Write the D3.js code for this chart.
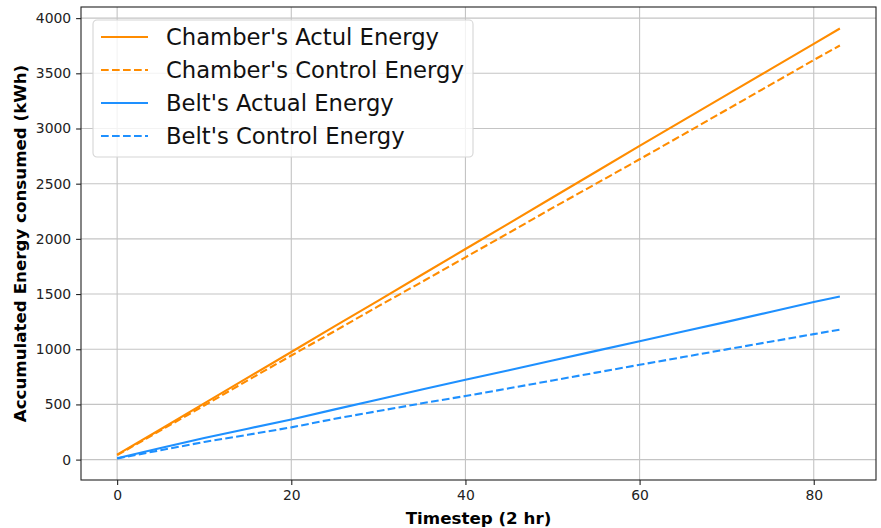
<!DOCTYPE html>
<html>
<head>
<meta charset="utf-8">
<script src="https://cdn.jsdelivr.net/npm/d3@7"></script>
<style>
  body { margin: 0; background: #fff; }
  svg { display: block; font-family: "DejaVu Sans", sans-serif; }
</style>
</head>
<body>
<div id="chart"></div>
<script>
// timesteps (2 hr)
var timesteps = [0, 5, 10, 15, 20, 25, 30, 35, 40, 45, 50, 55, 60, 65, 70, 75, 80, 83];

var chamberActual  = [45, 275, 510, 742, 975, 1210, 1440, 1675, 1908, 2140, 2375, 2608, 2842, 3073, 3305, 3535, 3767, 3906];
var chamberControl = [40, 265, 490, 718, 943, 1165, 1390, 1610, 1833, 2055, 2280, 2500, 2721, 2945, 3170, 3395, 3620, 3752];
var beltActual     = [12, 105, 195, 280, 364, 455, 545, 635, 723, 810, 898, 985, 1072, 1160, 1248, 1338, 1428, 1477];
var beltControl    = [10, 85, 160, 225, 292, 370, 440, 510, 576, 646, 717, 788, 859, 929, 999, 1068, 1137, 1178];

var xTicks = [0, 20, 40, 60, 80];
var yTicks = [0, 500, 1000, 1500, 2000, 2500, 3000, 3500, 4000];

var series = [
  {name: "Chamber's Actul Energy",    values: chamberActual,  color: "#ff8c00", dash: null},
  {name: "Chamber's Control Energy",  values: chamberControl, color: "#ff8c00", dash: "7.7,3.3"},
  {name: "Belt's Actual Energy",      values: beltActual,     color: "#1e90ff", dash: null},
  {name: "Belt's Control Energy",     values: beltControl,    color: "#1e90ff", dash: "7.7,3.3"}
];

var W = 881, H = 528;
var margin = {top: 7, right: 5, bottom: 48, left: 81},
    width = W - margin.left - margin.right,
    height = H - margin.top - margin.bottom;

var svg = d3.select("#chart")
  .append("svg")
    .attr("width", W)
    .attr("height", H);

var g = svg.append("g")
  .attr("transform", "translate(" + margin.left + "," + margin.top + ")");

// matplotlib style 5% margins
var xMax = d3.max(timesteps), yMin = d3.min(beltControl), yMax = d3.max(chamberActual);
var xPad = xMax * 0.05, yPad = (yMax - yMin) * 0.05;

var x = d3.scaleLinear().domain([-xPad, xMax + xPad]).range([0, width]);
var y = d3.scaleLinear().domain([yMin - yPad, yMax + yPad]).range([height, 0]);

// grid
g.append("g")
  .selectAll("line.vg")
  .data(xTicks)
  .enter().append("line")
    .attr("x1", function(d) { return x(d); })
    .attr("x2", function(d) { return x(d); })
    .attr("y1", 0).attr("y2", height)
    .attr("stroke", "#c4c4c4").attr("stroke-width", 1.1);

g.append("g")
  .selectAll("line.hg")
  .data(yTicks)
  .enter().append("line")
    .attr("y1", function(d) { return y(d); })
    .attr("y2", function(d) { return y(d); })
    .attr("x1", 0).attr("x2", width)
    .attr("stroke", "#c4c4c4").attr("stroke-width", 1.1);

// lines
var line = d3.line()
  .x(function(d, i) { return x(timesteps[i]); })
  .y(function(d) { return y(d); });

series.forEach(function(s) {
  g.append("path")
    .datum(s.values)
    .attr("fill", "none")
    .attr("stroke", s.color)
    .attr("stroke-width", 2.1)
    .attr("stroke-dasharray", s.dash)
    .attr("d", line);
});

// axes
var xAxis = g.append("g")
  .attr("transform", "translate(0," + height + ")")
  .call(d3.axisBottom(x).tickValues(xTicks).tickFormat(d3.format("d")).tickSize(4.9).tickPadding(4.9));
var yAxis = g.append("g")
  .call(d3.axisLeft(y).tickValues(yTicks).tickFormat(d3.format("d")).tickSize(4.9).tickPadding(4.9));

[xAxis, yAxis].forEach(function(a) {
  a.select(".domain").remove();
  a.selectAll("text").style("font-size", "13.9px").attr("fill", "#222").style("font-family", "DejaVu Sans");
  a.selectAll(".tick line").attr("stroke", "#222").attr("stroke-width", 1.1);
});

// frame
g.append("rect")
  .attr("width", width).attr("height", height)
  .attr("fill", "none").attr("stroke", "#222").attr("stroke-width", 1.1);

// axis labels
svg.append("text")
  .attr("x", margin.left + width / 2)
  .attr("y", 524)
  .attr("text-anchor", "middle")
  .style("font-size", "16.7px").style("font-weight", "bold")
  .text("Timestep (2 hr)");

svg.append("text")
  .attr("transform", "translate(26," + (margin.top + height / 2) + ") rotate(-90)")
  .attr("text-anchor", "middle")
  .style("font-size", "16.7px").style("font-weight", "bold")
  .text("Accumulated Energy consumed (kWh)");

// legend
var legend = svg.append("g").attr("transform", "translate(93,20)");
legend.append("rect")
  .attr("width", 380).attr("height", 137)
  .attr("rx", 4).attr("ry", 4)
  .attr("fill", "#fff").attr("fill-opacity", 0.8)
  .attr("stroke", "#d6d6d6").attr("stroke-width", 1.1);

series.forEach(function(s, i) {
  var cy = 17 + i * 33;
  legend.append("line")
    .attr("x1", 8).attr("x2", 55)
    .attr("y1", cy).attr("y2", cy)
    .attr("stroke", s.color).attr("stroke-width", 2.1)
    .attr("stroke-dasharray", s.dash);
  legend.append("text")
    .attr("x", 73).attr("y", cy)
    .attr("dy", "0.36em")
    .style("font-size", "22.7px")
    .attr("fill", "#111")
    .text(s.name);
});
</script>
</body>
</html>
